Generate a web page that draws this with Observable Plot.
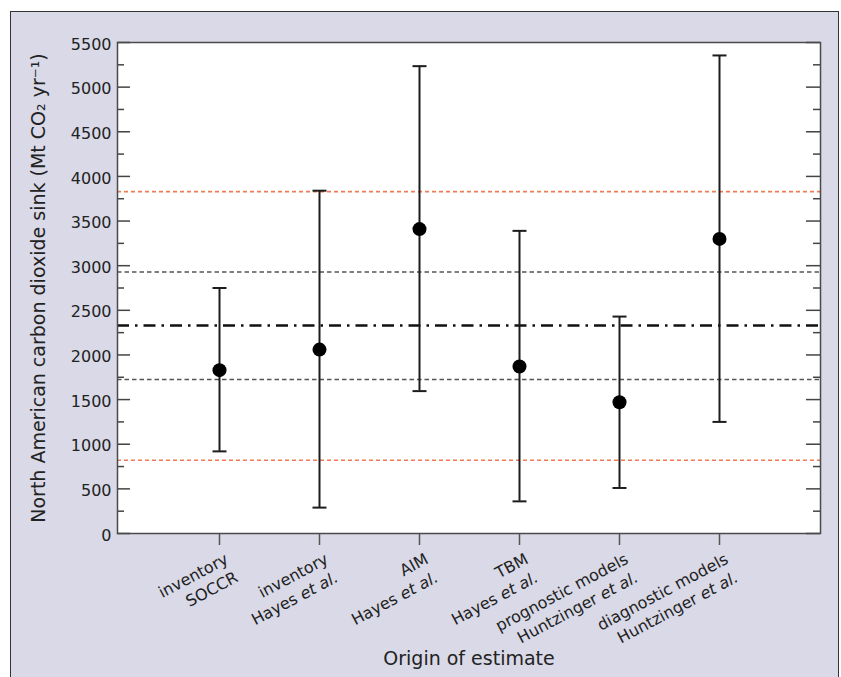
<!DOCTYPE html>
<html>
<head>
<meta charset="utf-8">
<script src="https://cdn.jsdelivr.net/npm/d3@7"></script>
<script src="https://cdn.jsdelivr.net/npm/@observablehq/plot@0.6"></script>
<style>
  html, body { margin: 0; padding: 0; background: white; }
  #wrap { position: relative; width: 841px; height: 677px; overflow: hidden; background: white; }
  #panel { position: absolute; left: 10px; top: 11px; width: 827px; height: 720px; border: 1px solid #333; background: #d9d9e7; }
  #chart { position: absolute; left: 0; top: 0; }
</style>
</head>
<body>
<div id="wrap"><div id="panel"></div><div id="chart"></div></div>
<script>
// ---- data ----
const categories = [
  "inventory\nSOCCR",
  "inventory\nHayes et al.",
  "AIM\nHayes et al.",
  "TBM\nHayes et al.",
  "prognostic models\nHuntzinger et al.",
  "diagnostic models\nHuntzinger et al."
];
const central = [1830, 2060, 3410, 1870, 1470, 3300];
const lower   = [920, 290, 1595, 360, 510, 1250];
const upper   = [2750, 3840, 5235, 3390, 2430, 5355];
const meanLine = [2330];
const innerBand = [1725, 2930];
const outerBand = [820, 3830];
const yMajorTicks = [0, 500, 1000, 1500, 2000, 2500, 3000, 3500, 4000, 4500, 5000, 5500];
const yMinorTicks = [250, 750, 1250, 1750, 2250, 2750, 3250, 3750, 4250, 4750, 5250];
const yTitle = "North American carbon dioxide sink (Mt CO\u2082 yr\u207B\u00B9)";
const xTitle = "Origin of estimate";

// ---- layout ----
const W = 841, H = 677;
const mL = 117, mR = 21, mT = 42, mB = 144;
const innerW = W - mL - mR;

const rows = categories.map((c, i) => ({cat: c, mid: central[i], lo: lower[i], hi: upper[i]}));

const capSymbol = {
  draw(ctx, size) {
    const w = Math.sqrt(size / Math.PI);
    ctx.moveTo(-w, 0);
    ctx.lineTo(w, 0);
  }
};

const ink = "#1c1c1c";

const chart = Plot.plot({
  width: W,
  height: H,
  marginLeft: mL,
  marginRight: mR,
  marginTop: mT,
  marginBottom: mB,
  style: {fontFamily: "'DejaVu Sans', sans-serif", fontSize: "16px", background: "transparent", color: "#222", overflow: "visible"},
  x: {type: "point", domain: categories, padding: 1},
  y: {domain: [0, 5500]},
  marks: [
    Plot.frame({fill: "white", stroke: null}),
    // reference lines
    Plot.ruleY(outerBand, {stroke: "#f07b55", strokeWidth: 1.6, strokeDasharray: "4,3"}),
    Plot.ruleY(innerBand, {stroke: "#555", strokeWidth: 1.6, strokeDasharray: "4.5,3"}),
    Plot.ruleY(meanLine, {stroke: "#111", strokeWidth: 2.5, strokeDasharray: "12,6,2.5,6"}),
    // inward ticks, left & right
    Plot.ruleY(yMajorTicks, {insetRight: innerW - 13, stroke: "#444", strokeWidth: 1.5}),
    Plot.ruleY(yMinorTicks, {insetRight: innerW - 7, stroke: "#444", strokeWidth: 1.5}),
    Plot.ruleY(yMajorTicks, {insetLeft: innerW - 14, stroke: "#444", strokeWidth: 1.5}),
    Plot.ruleY(yMinorTicks, {insetLeft: innerW - 7, stroke: "#444", strokeWidth: 1.5}),
    // y tick labels
    Plot.axisY({ticks: yMajorTicks, tickFormat: d => String(d), tickSize: 0, tickPadding: 6, dy: 2, label: null, fontSize: 16}),
    // x ticks (outward)
    Plot.axisX({tickSize: 12, tickFormat: () => "", label: null, stroke: "#555", strokeWidth: 1.5}),
    // error bars
    Plot.ruleX(rows, {x: "cat", y1: "lo", y2: "hi", stroke: ink, strokeWidth: 2}),
    Plot.dot(rows, {x: "cat", y: "hi", symbol: capSymbol, r: 7, fill: "none", stroke: ink, strokeWidth: 2}),
    Plot.dot(rows, {x: "cat", y: "lo", symbol: capSymbol, r: 7, fill: "none", stroke: ink, strokeWidth: 2}),
    Plot.dot(rows, {x: "cat", y: "mid", r: 7, fill: "#000", stroke: null}),
    // x category labels
    Plot.text(categories, {x: d => d, text: d => d, frameAnchor: "bottom", rotate: -28, textAnchor: "end", lineAnchor: "top", lineHeight: 1.3, dx: 3, dy: 16, fontSize: 16, fill: "#222"}),
    // titles
    Plot.text([xTitle], {frameAnchor: "bottom", dy: 125, lineAnchor: "middle", textAnchor: "middle", fontSize: 19, fill: "#222"}),
    Plot.text([yTitle], {frameAnchor: "left", rotate: -90, dx: -79, lineAnchor: "middle", textAnchor: "middle", fontSize: 19, fill: "#222"}),
    Plot.frame({stroke: "#4a4a4a", strokeWidth: 1.5})
  ]
});

// italicise "et al."
const svgNS = "http://www.w3.org/2000/svg";
chart.querySelectorAll("tspan").forEach(t => {
  const s = t.textContent;
  const i = s.indexOf("et al.");
  if (i >= 0) {
    t.textContent = s.slice(0, i);
    const it = document.createElementNS(svgNS, "tspan");
    it.setAttribute("font-style", "italic");
    it.textContent = "et al.";
    t.appendChild(it);
  }
});

document.getElementById("chart").appendChild(chart);
</script>
</body>
</html>
